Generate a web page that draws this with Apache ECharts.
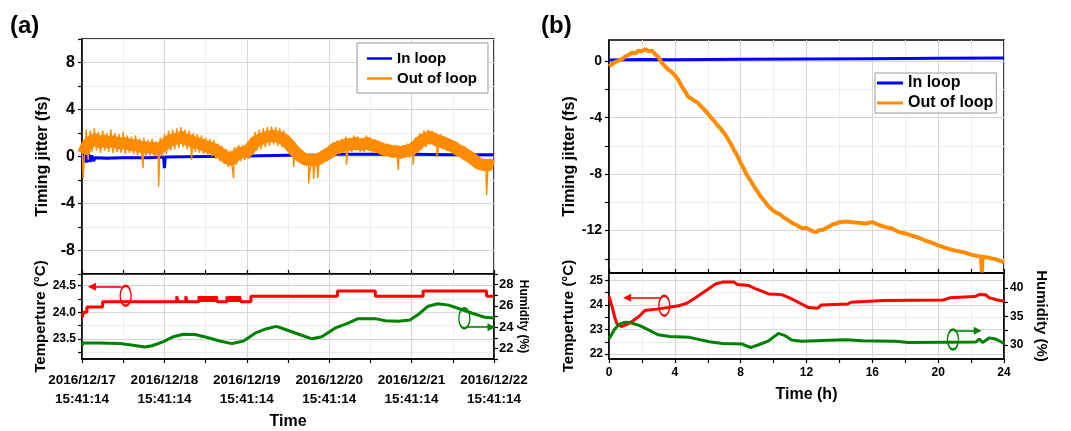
<!DOCTYPE html>
<html><head><meta charset="utf-8">
<script src="https://cdn.jsdelivr.net/npm/echarts@6/dist/echarts.min.js"></script>
<style>html,body{margin:0;padding:0;background:#fff;}#c{width:1071px;height:431px;}</style>
</head><body><div id="c"></div>
<script>
// ---------- data ----------
const aTimeLabels = ['2016/12/17\n15:41:14','2016/12/18\n15:41:14','2016/12/19\n15:41:14','2016/12/20\n15:41:14','2016/12/21\n15:41:14','2016/12/22\n15:41:14'];
const aTimeTicks = [0,1,2,3,4,5];
const aJitterLabels = [-8,-4,0,4,8];
const aTempTicks = [23.25,23.5,23.75,24.0,24.25,24.5];
const aTempLabels = [23.5,24.0,24.5];
const aHumLabels = [22,24,26,28];
const bHourLabels = [0,4,8,12,16,20,24];
const bJitterTicks = [-14,-12,-10,-8,-6,-4,-2,0];
const bJitterLabels = [-12,-8,-4,0];
const bTempTicks = [22,22.5,23,23.5,24,24.5,25];
const bTempLabels = [22,23,24,25];
const bHumTicks = [30,32.5,35,37.5,40];
const bHumLabels = [30,35,40];

// panel (a): in-loop jitter (day, fs)
const aInLoop = [[0,-0.1],[0.02,0.3],[0.03,-0.5],[0.05,0.25],[0.06,-0.5],[0.08,0.2],[0.10,-0.45],[0.12,0.1],[0.14,-0.4],[0.16,-0.1],[0.3,-0.15],[0.5,-0.1],[0.8,-0.1],[0.99,-0.05],[1.0,-1.0],[1.01,-0.05],[1.5,0.0],[2.0,0.05],[2.5,0.1],[2.9,0.1],[3.0,0.2],[3.5,0.2],[4.0,0.2],[4.5,0.15],[5.0,0.15]];
// panel (a): out-of-loop band, upper and lower edges (day, fs), plus spikes
const aOutHigh = [[0.00,1.0],[0.05,2.3],[0.10,2.2],[0.15,2.4],[0.20,2.1],[0.25,2.2],[0.30,2.0],[0.35,2.3],[0.40,2.0],[0.45,1.9],[0.50,2.1],[0.55,1.8],[0.60,1.7],[0.65,1.8],[0.70,1.5],[0.75,1.6],[0.80,1.4],[0.85,1.5],[0.90,1.3],[0.95,1.6],[1.00,1.9],[1.05,2.2],[1.10,2.3],[1.15,2.4],[1.20,2.5],[1.25,2.3],[1.30,2.2],[1.35,2.0],[1.40,1.9],[1.45,1.8],[1.50,1.6],[1.55,1.5],[1.60,1.4],[1.65,1.1],[1.70,0.9],[1.75,0.6],[1.80,0.5],[1.85,0.8],[1.90,1.0],[1.95,1.0],[2.00,1.1],[2.05,1.6],[2.10,2.1],[2.15,2.3],[2.20,2.4],[2.25,2.5],[2.30,2.55],[2.35,2.5],[2.40,2.4],[2.45,2.2],[2.50,1.8],[2.55,1.3],[2.60,0.9],[2.65,0.5],[2.70,0.3],[2.75,0.2],[2.80,0.1],[2.85,0.2],[2.90,0.4],[2.95,0.7],[3.00,0.9],[3.05,1.2],[3.10,1.4],[3.15,1.5],[3.20,1.7],[3.25,1.6],[3.30,1.8],[3.35,1.7],[3.40,1.6],[3.45,1.8],[3.50,1.6],[3.55,1.5],[3.60,1.3],[3.65,1.2],[3.70,1.1],[3.75,0.9],[3.80,1.0],[3.85,0.9],[3.90,1.0],[3.95,1.1],[4.00,1.3],[4.05,1.6],[4.10,2.0],[4.15,2.2],[4.20,2.3],[4.25,2.2],[4.30,2.0],[4.35,1.9],[4.40,1.7],[4.45,1.5],[4.50,1.3],[4.55,1.0],[4.60,0.8],[4.65,0.5],[4.70,0.3],[4.75,0.0],[4.80,-0.3],[4.85,-0.4],[4.90,-0.4],[4.95,-0.3],[5.00,-0.4]];
const aOutLow = [[0.025,-0.5],[0.075,-0.3],[0.125,0.4],[0.175,0.5],[0.225,0.3],[0.275,0.5],[0.325,0.4],[0.375,0.3],[0.425,0.4],[0.475,0.3],[0.525,0.2],[0.575,0.3],[0.625,0.2],[0.675,0.1],[0.725,0.15],[0.775,0.0],[0.825,0.1],[0.875,0.0],[0.925,-0.1],[0.975,0.0],[1.025,0.2],[1.075,0.5],[1.125,0.6],[1.175,0.7],[1.225,0.8],[1.275,0.6],[1.325,0.5],[1.375,0.4],[1.425,0.3],[1.475,0.2],[1.525,0.1],[1.575,0.0],[1.625,-0.2],[1.675,-0.4],[1.725,-0.6],[1.775,-0.9],[1.825,-1.0],[1.875,-0.7],[1.925,-0.4],[1.975,-0.3],[2.025,-0.2],[2.075,0.2],[2.125,0.5],[2.175,0.6],[2.225,0.8],[2.275,0.9],[2.325,1.0],[2.375,0.9],[2.425,0.8],[2.475,0.6],[2.525,0.3],[2.575,-0.1],[2.625,-0.4],[2.675,-0.6],[2.725,-0.8],[2.775,-0.7],[2.825,-0.8],[2.875,-0.7],[2.925,-0.5],[2.975,-0.4],[3.025,-0.2],[3.075,0.1],[3.125,0.2],[3.175,0.3],[3.225,0.4],[3.275,0.4],[3.325,0.5],[3.375,0.4],[3.425,0.4],[3.475,0.5],[3.525,0.3],[3.575,0.3],[3.625,0.2],[3.675,0.0],[3.725,0.0],[3.775,-0.1],[3.825,-0.1],[3.875,-0.2],[3.925,-0.1],[3.975,-0.1],[4.025,0.0],[4.075,0.3],[4.125,0.6],[4.175,0.8],[4.225,1.0],[4.275,0.9],[4.325,0.7],[4.375,0.6],[4.425,0.5],[4.475,0.4],[4.525,0.3],[4.575,0.1],[4.625,0.0],[4.675,-0.2],[4.725,-0.4],[4.775,-0.6],[4.825,-0.9],[4.875,-1.0],[4.925,-1.1],[4.975,-1.1]];
const aOutSpikes = [[0.015,-1.85],[0.74,-1.0],[0.93,-2.55],[1.33,-0.3],[1.84,-1.85],[2.57,-0.9],[2.75,-2.3],[2.81,-1.9],[2.86,-1.85],[3.21,-0.7],[3.84,-1.15],[4.02,-0.7],[4.31,0.0],[4.91,-3.3]];
// panel (a): temperature (day, degC) stepped, humidity (day, %)
const aTemp = [[0,23.9],[0.02,24.0],[0.06,24.1],[0.25,24.2],[1.15,24.3],[1.165,24.2],[1.26,24.3],[1.275,24.2],[1.42,24.3],[1.44,24.2],[1.455,24.3],[1.47,24.2],[1.485,24.3],[1.50,24.2],[1.515,24.3],[1.53,24.2],[1.545,24.3],[1.56,24.2],[1.575,24.3],[1.59,24.2],[1.605,24.3],[1.62,24.2],[1.63,24.3],[1.64,24.2],[1.76,24.3],[1.775,24.2],[1.79,24.3],[1.805,24.2],[1.82,24.3],[1.835,24.2],[1.85,24.3],[1.865,24.2],[1.88,24.3],[1.895,24.2],[1.91,24.3],[1.925,24.2],[2.05,24.3],[3.10,24.4],[3.56,24.3],[4.14,24.4],[4.91,24.3],[5.0,24.3]];
const aHum = [[0,22.3],[0.016,22.5],[0.2,22.5],[0.46,22.45],[0.62,22.3],[0.76,22.13],[0.85,22.25],[0.99,22.64],[1.11,23.1],[1.23,23.33],[1.37,23.3],[1.51,23.05],[1.67,22.7],[1.82,22.45],[1.96,22.7],[2.10,23.43],[2.24,23.85],[2.36,24.07],[2.46,23.8],[2.63,23.33],[2.79,22.9],[2.91,23.1],[3.07,23.9],[3.23,24.38],[3.35,24.8],[3.56,24.8],[3.68,24.6],[3.84,24.55],[3.98,24.67],[4.08,25.18],[4.20,25.97],[4.32,26.2],[4.45,26.07],[4.57,25.75],[4.73,25.33],[4.89,24.92],[5.0,24.87]];

// panel (b): jitter (h, fs)
const bInLoop = [[0,0.08],[2,0.12],[4,0.1],[8,0.13],[12,0.16],[16,0.18],[20,0.2],[24,0.22]];
const bOutLoop = [[0.0,-0.35],[0.2,-0.2],[0.4,-0.05],[0.6,0.05],[0.8,0.15],[1.0,0.35],[1.2,0.45],[1.4,0.6],[1.6,0.55],[1.8,0.75],[2.0,0.7],[2.2,0.85],[2.4,0.7],[2.6,0.75],[2.8,0.5],[3.0,0.3],[3.2,-0.1],[3.4,-0.35],[3.6,-0.6],[3.8,-0.75],[4.0,-1.0],[4.2,-1.3],[4.4,-1.75],[4.6,-2.1],[4.8,-2.5],[5.0,-2.65],[5.2,-2.8],[5.4,-2.95],[5.6,-3.2],[5.8,-3.45],[6.0,-3.7],[6.2,-4.0],[6.4,-4.25],[6.6,-4.55],[6.8,-4.8],[7.0,-5.1],[7.2,-5.45],[7.4,-5.85],[7.6,-6.3],[7.8,-6.7],[8.0,-7.2],[8.2,-7.65],[8.4,-8.1],[8.6,-8.45],[8.8,-8.85],[9.0,-9.2],[9.2,-9.55],[9.4,-9.85],[9.6,-10.15],[9.8,-10.4],[10.0,-10.6],[10.2,-10.75],[10.4,-10.85],[10.6,-11.05],[10.8,-11.2],[11.0,-11.35],[11.2,-11.5],[11.4,-11.6],[11.6,-11.75],[11.8,-11.85],[12.0,-11.8],[12.2,-11.95],[12.4,-12.05],[12.6,-12.1],[12.8,-11.95],[13.0,-11.95],[13.2,-11.8],[13.4,-11.7],[13.6,-11.55],[13.8,-11.5],[14.0,-11.4],[14.4,-11.35],[14.8,-11.4],[15.2,-11.45],[15.6,-11.5],[16.0,-11.4],[16.4,-11.6],[16.8,-11.75],[17.2,-11.85],[17.6,-12.1],[18.0,-12.2],[18.4,-12.35],[18.8,-12.5],[19.2,-12.7],[19.6,-12.85],[20.0,-13.05],[20.4,-13.2],[20.8,-13.35],[21.2,-13.45],[21.6,-13.55],[22.0,-13.7],[22.4,-13.8],[22.6,-13.85],[22.65,-14.95],[22.7,-13.85],[23.0,-13.9],[23.4,-14.0],[23.8,-14.15],[24.0,-14.25]];
// panel (b): temperature (h, degC), humidity (h, %)
const bTemp = [[0,24.35],[0.04,24.31],[0.2,23.9],[0.35,23.49],[0.49,23.22],[0.75,23.12],[1.06,23.2],[1.46,23.36],[1.87,23.56],[2.17,23.77],[2.9,23.83],[3.6,23.9],[4.3,23.98],[4.7,24.06],[5.3,24.31],[5.9,24.59],[6.5,24.86],[6.9,24.93],[7.6,24.93],[7.8,24.83],[8.5,24.79],[8.9,24.66],[9.7,24.45],[10.5,24.42],[11.1,24.25],[11.7,24.04],[12.1,23.9],[12.7,23.87],[12.9,24.0],[14.5,24.04],[14.7,24.11],[16.7,24.18],[20.3,24.2],[20.7,24.29],[22.2,24.34],[22.5,24.42],[22.9,24.41],[23.1,24.29],[23.6,24.2],[24,24.15]];
const bHum = [[0,31.0],[0.04,31.3],[0.35,32.77],[0.65,33.65],[0.96,33.94],[1.26,33.9],[1.87,33.35],[2.37,32.65],[2.98,31.76],[3.69,31.46],[4.9,31.3],[6.1,30.53],[6.9,30.23],[8.1,30.12],[8.6,29.52],[9.1,30.0],[9.7,30.7],[10.3,32.0],[10.4,32.29],[10.7,31.6],[11.1,30.83],[11.7,30.6],[13.4,30.8],[14.4,30.9],[15.4,30.7],[17.4,30.6],[18.2,30.4],[22.3,30.5],[22.5,31.0],[22.7,30.4],[23.1,31.2],[23.5,31.0],[23.9,30.4],[24,30.2]];

// annotation markers (data coordinates): ellipse centre and arrow start/end
const annARedEllipse = [0.53,24.31], annARedArrow = [[0.48,24.48],[0.12,24.48]];
const annAGreenEllipse = [4.64,24.84], annAGreenArrow = [[4.66,24.0],[4.97,24.0]];
const annBRedEllipse = [3.36,23.97], annBRedArrow = [[3.2,24.29],[1.1,24.29]];
const annBGreenEllipse = [20.9,30.93], annBGreenArrow = [[21.0,32.47],[22.4,32.47]];

// ---------- chart ----------
const FONT = 'Liberation Sans';
const MAJ = '#d6d6d6', MIN = '#ececec';
const BLUE = '#0000ff', ORANGE = '#ff8c00', RED = '#ff0000', GREEN = '#008000';

// zig-zag trace alternating between the read upper and lower edges, with spikes
const aOutLoop = aOutHigh.concat(aOutLow, aOutSpikes).sort((p, q) => p[0] - q[0]);
// body of the band: midway between each upper/lower reading pair
const aOutBody = aOutHigh.map((p, i) => {
  const q = aOutLow[Math.min(i, aOutLow.length - 1)];
  return [(p[0] + q[0]) / 2, (p[1] + q[1]) / 2];
});

function lbl(size, extra) { return Object.assign({color:'#000', fontFamily:FONT, fontWeight:'bold', fontSize:size}, extra || {}); }
function nameStyle(size) { return {color:'#000', fontFamily:FONT, fontWeight:'bold', fontSize:size}; }
const axLine = {show:true, onZero:false, lineStyle:{color:'#000', width:1.5}};

function ann(color, center, arrow) {
  return {
    markPoint: {silent:true, symbol:'circle', symbolSize:[11,20], label:{show:false},
      itemStyle:{color:'rgba(0,0,0,0)', borderColor:color, borderWidth:1.8}, data:[{coord:center}]},
    markLine: {silent:true, symbol:['none','triangle'], symbolSize:8, label:{show:false},
      lineStyle:{color:color, width:1.6, type:'solid'}, emphasis:{disabled:true},
      data:[[{coord:arrow[0]},{coord:arrow[1]}]]}
  };
}

const chart = echarts.init(document.getElementById('c'), null, {renderer:'canvas'});
chart.setOption({
  animation:false,
  backgroundColor:'#fff',
  title:[
    {text:'(a)', left:5, top:9, padding:5, textStyle:{fontFamily:FONT, fontWeight:'bold', fontSize:24, color:'#000'}},
    {text:'(b)', left:536, top:9, padding:5, textStyle:{fontFamily:FONT, fontWeight:'bold', fontSize:24, color:'#000'}}
  ],
  legend:[
    {left:357, top:43, orient:'vertical', data:['In loop','Out of loop'], icon:'rect', itemWidth:25, itemHeight:2.5, itemGap:5,
     padding:[8,11,7,10], backgroundColor:'#fff', borderColor:'#999', borderWidth:1, borderRadius:0,
     textStyle:lbl(15), selectedMode:false},
    {left:875, top:73, orient:'vertical', data:['In loop','Out of loop'], icon:'rect', itemWidth:26, itemHeight:3, itemGap:4,
     padding:[2,3,2,2], backgroundColor:'#fff', borderColor:'#999', borderWidth:1, borderRadius:0,
     textStyle:lbl(16), selectedMode:false}
  ],
  grid:[
    {left:82, top:39, width:412, height:235, show:true, borderColor:'#000', borderWidth:1.5, containLabel:false},
    {left:82, top:274, width:412, height:86, show:true, borderColor:'#000', borderWidth:1.5, containLabel:false},
    {left:609, top:40, width:395, height:233, show:true, borderColor:'#000', borderWidth:1.5, containLabel:false},
    {left:609, top:273, width:395, height:86, show:true, borderColor:'#000', borderWidth:1.5, containLabel:false}
  ],
  xAxis:[
    {gridIndex:0, type:'value', min:0, max:5, interval:0.5, axisLine:axLine,
     axisTick:{inside:true, length:4, lineStyle:{color:'#000', width:1.2}}, axisLabel:{show:false},
     splitLine:{show:true, lineStyle:{color:[MAJ,MIN], width:1}}},
    {gridIndex:1, type:'value', min:0, max:5, interval:0.5, axisLine:axLine,
     axisTick:{length:4, lineStyle:{color:'#000', width:1.2}},
     axisLabel:lbl(13.5, {customValues:aTimeTicks, margin:12, lineHeight:19, formatter:v => aTimeLabels[Math.round(v)]}),
     splitLine:{show:true, lineStyle:{color:[MAJ,MIN], width:1}},
     name:'Time', nameLocation:'middle', nameGap:55, nameTextStyle:nameStyle(16)},
    {gridIndex:2, type:'value', min:0, max:24, interval:2, axisLine:axLine,
     axisTick:{inside:true, length:4, lineStyle:{color:'#000', width:1.2}}, axisLabel:{show:false},
     splitLine:{show:true, lineStyle:{color:[MAJ,MIN], width:1}}},
    {gridIndex:3, type:'value', min:0, max:24, interval:2, axisLine:axLine,
     axisTick:{length:4, lineStyle:{color:'#000', width:1.2}},
     axisLabel:lbl(12, {customValues:bHourLabels, margin:8}),
     splitLine:{show:true, lineStyle:{color:[MAJ,MIN], width:1}},
     name:'Time (h)', nameLocation:'middle', nameGap:28, nameTextStyle:nameStyle(16)}
  ],
  yAxis:[
    {gridIndex:0, type:'value', min:-10, max:10, interval:2, axisLine:axLine,
     axisTick:{length:4, lineStyle:{color:'#000', width:1.2}},
     axisLabel:lbl(16, {customValues:aJitterLabels, margin:7}),
     splitLine:{show:true, lineStyle:{color:[MIN,MAJ], width:1}},
     name:'Timing jitter (fs)', nameLocation:'middle', nameGap:31, nameTextStyle:nameStyle(16)},
    {gridIndex:1, type:'value', min:23.12, max:24.72, axisLine:axLine,
     axisTick:{customValues:aTempTicks, length:4, lineStyle:{color:'#000', width:1.2}},
     axisLabel:lbl(12, {customValues:aTempLabels, margin:6, formatter:v => v.toFixed(1)}),
     splitLine:{show:true, lineStyle:{color:[MIN,MAJ], width:1}},
     name:'Temperture (°C)', nameLocation:'middle', nameGap:31, nameTextStyle:nameStyle(15)},
    {gridIndex:1, type:'value', position:'right', min:21, max:29, interval:1, axisLine:axLine,
     axisTick:{length:4, lineStyle:{color:'#000', width:1.2}},
     axisLabel:lbl(13, {customValues:aHumLabels, margin:5}),
     splitLine:{show:false},
     name:'Humidity (%)', nameLocation:'middle', nameRotate:-90, nameGap:22, nameTextStyle:nameStyle(12)},
    {gridIndex:2, type:'value', min:-15, max:1.5, axisLine:axLine,
     axisTick:{customValues:bJitterTicks, length:4, lineStyle:{color:'#000', width:1.2}},
     axisLabel:lbl(14, {customValues:bJitterLabels, margin:7}),
     splitLine:{show:true, lineStyle:{color:[MIN,MAJ], width:1}},
     name:'Timing jitter (fs)', nameLocation:'middle', nameGap:31, nameTextStyle:nameStyle(16)},
    {gridIndex:3, type:'value', min:21.8, max:25.3, axisLine:axLine,
     axisTick:{customValues:bTempTicks, length:4, lineStyle:{color:'#000', width:1.2}},
     axisLabel:lbl(12, {customValues:bTempLabels, margin:6}),
     splitLine:{show:true, lineStyle:{color:[MAJ,MIN], width:1}},
     name:'Temperture (°C)', nameLocation:'middle', nameGap:33, nameTextStyle:nameStyle(15)},
    {gridIndex:3, type:'value', position:'right', min:27.5, max:42.6, axisLine:axLine,
     axisTick:{customValues:bHumTicks, length:4, lineStyle:{color:'#000', width:1.2}},
     axisLabel:lbl(12, {customValues:bHumLabels, margin:6}),
     splitLine:{show:false},
     name:'Humidity (%)', nameLocation:'middle', nameRotate:-90, nameGap:30, nameTextStyle:nameStyle(15)}
  ],
  series:[
    {name:'In loop', type:'line', xAxisIndex:0, yAxisIndex:0, data:aInLoop, symbol:'none',
     lineStyle:{color:BLUE, width:3}, itemStyle:{color:BLUE}, z:2},
    {name:'Out of loop body', type:'line', xAxisIndex:0, yAxisIndex:0, data:aOutBody, symbol:'none',
     lineStyle:{color:ORANGE, width:12, join:'round', cap:'butt'}, itemStyle:{color:ORANGE}, z:3},
    {name:'Out of loop', type:'line', xAxisIndex:0, yAxisIndex:0, data:aOutLoop, symbol:'none',
     lineStyle:{color:ORANGE, width:1.4}, itemStyle:{color:ORANGE}, z:3},
    Object.assign({name:'Temp a', type:'line', xAxisIndex:1, yAxisIndex:1, data:aTemp, symbol:'none', step:'end',
     lineStyle:{color:RED, width:3}, itemStyle:{color:RED}}, ann(RED, annARedEllipse, annARedArrow)),
    Object.assign({name:'Hum a', type:'line', xAxisIndex:1, yAxisIndex:2, data:aHum, symbol:'none',
     lineStyle:{color:GREEN, width:3}, itemStyle:{color:GREEN}}, ann(GREEN, annAGreenEllipse, annAGreenArrow)),
    {name:'In loop', type:'line', xAxisIndex:2, yAxisIndex:3, data:bInLoop, symbol:'none',
     lineStyle:{color:BLUE, width:3}, itemStyle:{color:BLUE}, z:2},
    {name:'Out of loop', type:'line', xAxisIndex:2, yAxisIndex:3, data:bOutLoop, symbol:'none',
     lineStyle:{color:ORANGE, width:4}, itemStyle:{color:ORANGE}, z:3},
    Object.assign({name:'Temp b', type:'line', xAxisIndex:3, yAxisIndex:4, data:bTemp, symbol:'none',
     lineStyle:{color:RED, width:3}, itemStyle:{color:RED}}, ann(RED, annBRedEllipse, annBRedArrow)),
    Object.assign({name:'Hum b', type:'line', xAxisIndex:3, yAxisIndex:5, data:bHum, symbol:'none',
     lineStyle:{color:GREEN, width:3}, itemStyle:{color:GREEN}}, ann(GREEN, annBGreenEllipse, annBGreenArrow))
  ]
});
</script>
</body></html>
